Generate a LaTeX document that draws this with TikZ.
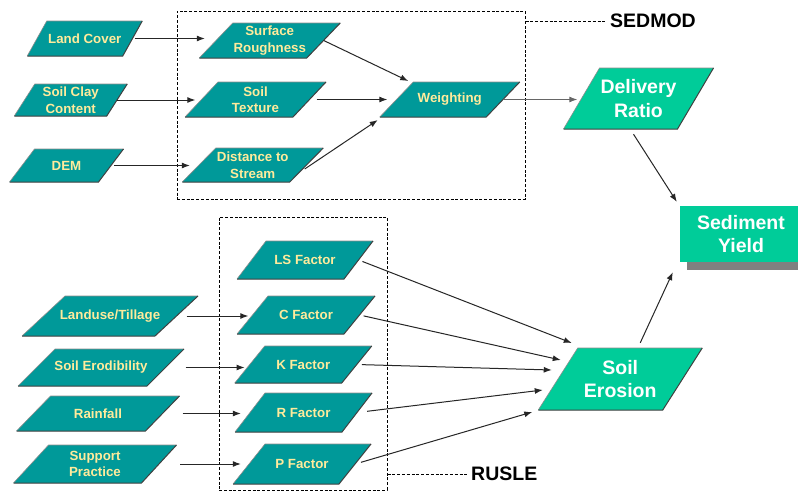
\documentclass[tikz,border=0pt]{standalone}
\usepackage{fontspec}
\setmainfont{Liberation Sans}
\usetikzlibrary{arrows.meta,calc}
\definecolor{tealbox}{HTML}{009999}
\definecolor{greenbox}{HTML}{00CC99}
\definecolor{txtyellow}{HTML}{FFEB9C}
\definecolor{shadowgray}{HTML}{808080}
\newcommand\mypgram[9]{%
  \coordinate (#1-tl) at ({#2-#4/2+#6/2},{#3-#5/2});
  \coordinate (#1-tr) at ({#2+#4/2+#6/2},{#3-#5/2});
  \coordinate (#1-br) at ({#2+#4/2-#6/2},{#3+#5/2});
  \coordinate (#1-bl) at ({#2-#4/2-#6/2},{#3+#5/2});
  \fill[#7] (#1-tl) -- (#1-tr) -- (#1-br) -- (#1-bl) -- cycle;
  \draw[topedge] (#1-bl) -- (#1-tl) -- (#1-tr);
  \draw[botedge] (#1-tr) -- (#1-br) -- (#1-bl);
  \node[#8, minimum width=#4pt, minimum height=#5pt] (#1) at (#2,#3) {#9};
}
\tikzset{
  topedge/.style={draw=black!45, line width=0.6pt},
  botedge/.style={draw=black!75, line width=1pt},
  tealfill/.style={fill=tealbox},
  greenfill/.style={fill=greenbox},
  tealtxt/.style={rectangle, inner sep=0pt, align=center, text=txtyellow,
    font=\bfseries\fontsize{13.3}{16.5}\selectfont},
  greentxt/.style={rectangle, inner sep=0pt, align=center, text=white,
    font=\bfseries\fontsize{19.5}{23.5}\selectfont},
  arr/.style={draw=black!85, line width=1pt, -{Latex[length=8pt,width=6pt]}},
  grayarr/.style={arr, draw=black!60},
  dashbox/.style={draw=black, line width=1pt, dash pattern=on 3pt off 1.8pt, rectangle, inner sep=0pt},
  dashline/.style={draw=black, line width=1pt, dash pattern=on 3pt off 1.8pt},
  lab/.style={inner sep=0pt, text=black, font=\bfseries\fontsize{19.5}{23}\selectfont},
}
\begin{document}
\begin{tikzpicture}[x=1pt, y=-1pt]
\useasboundingbox[fill=white] (0,0) rectangle (798,493);

% dashed model boxes
\node[dashbox, minimum width=348pt, minimum height=188pt] (sedmod) at (351,105) {};
\node[dashbox, minimum width=168pt, minimum height=273pt] (rusle) at (303,353.5) {};
\node[lab, anchor=west] (sedlab) at (610,21) {SEDMOD};
\node[lab, anchor=west] (ruslab) at (471,474) {RUSLE};
\draw[dashline, shorten >=3pt] (sedmod.east |- sedlab.west) -- (sedlab.west);
\draw[dashline, shorten >=4pt] (rusle.east |- ruslab.west) -- (ruslab.west);

% SEDMOD inputs
\mypgram{lc}{84.75}{38.5}{95.5}{35}{19.5}{tealfill}{tealtxt}{Land Cover}
\mypgram{scc}{70.75}{100}{92.5}{32}{20.5}{tealfill}{tealtxt}{Soil Clay\\Content}
\mypgram{dem}{66.5}{165.5}{89}{33}{25}{tealfill}{tealtxt}{DEM}
\mypgram{sr}{269.75}{40.5}{107.5}{35}{33.5}{tealfill}{tealtxt}{Surface\\Roughness}
\mypgram{st}{255.5}{99.5}{108}{35}{33}{tealfill}{tealtxt}{Soil\\Texture}
\mypgram{dts}{252.75}{165}{107.5}{34}{33.5}{tealfill}{tealtxt}{Distance to\\Stream}
\mypgram{wt}{449.75}{99.5}{106.5}{35}{33.5}{tealfill}{tealtxt}{Weighting}
\mypgram{dr}{638.5}{98.5}{114}{61}{36}{greenfill}{greentxt}{Delivery\\Ratio}

% RUSLE
\mypgram{ls}{305}{260}{107}{38}{29}{tealfill}{tealtxt}{LS Factor}
\mypgram{cf}{306}{315}{107}{38}{31}{tealfill}{tealtxt}{C Factor}
\mypgram{kf}{303.25}{364.5}{107}{37}{30}{tealfill}{tealtxt}{K Factor}
\mypgram{rf}{303.5}{412.5}{107}{39}{30}{tealfill}{tealtxt}{R Factor}
\mypgram{pf}{302}{464}{106}{40}{32}{tealfill}{tealtxt}{P Factor}
\mypgram{lu}{110}{316}{133}{40}{43}{tealfill}{tealtxt}{Landuse/Tillage}
\mypgram{erod}{101}{367.5}{129}{37}{37}{tealfill}{tealtxt}{Soil Erodibility}
\mypgram{rain}{98}{413.5}{129}{35}{34}{tealfill}{tealtxt}{Rainfall}
\mypgram{sp}{95}{464}{128}{38}{35}{tealfill}{tealtxt}{Support\\Practice}
\mypgram{se}{620.25}{379}{124.5}{62}{39.5}{greenfill}{greentxt}{Soil\\Erosion}

% Sediment Yield
\node[rectangle, fill=greenbox, minimum width=118pt, minimum height=56pt, inner sep=0pt,
  align=center, text=white, font=\bfseries\fontsize{19.5}{23.5}\selectfont] (sy) at (739,234) {\hspace*{4pt}Sediment\\\hspace*{4pt}Yield};
\fill[shadowgray] ([xshift=7pt]sy.south west) rectangle ([yshift=-8pt]sy.south east);

% connectors SEDMOD
\draw[arr, shorten <=2pt, shorten >=11pt] (lc.east) -- (lc.east -| sr.west);
\draw[arr, shorten >=6pt] (scc.east) -- (scc.east -| st.west);
\draw[arr, shorten <=3pt, shorten >=9pt] (dem.east) -- (dem.east -| dts.west);
\draw[arr] (sr.east) -- ($(wt-tl)+(-5,-1)$);
\draw[arr, shorten <=7pt, shorten >=9pt] (st.east) -- (st.east -| wt.west);
\draw[arr] ($(dts.east)+(-2,4)$) -- ($(wt-bl)+(-2,3)$);
\draw[grayarr, shorten >=4pt] (wt.east) -- (wt.east -| dr.west);
\draw[arr] ($(dr.south)+(-5,5)$) -- ($(sy.north west)+(-3,-4)$);
\draw[arr] ($(se.north)+(20,-5)$) -- ($(sy.south west)+(-7,10)$);

% connectors RUSLE
\draw[arr, shorten <=10pt, shorten >=4pt] (lu.east) -- (lu.east -| cf.west);
\draw[arr, shorten <=20pt, shorten >=5pt] (erod.east) -- (erod.east -| kf.west);
\draw[arr, shorten <=20pt, shorten >=9pt] (rain.east) -- (rain.east -| rf.west);
\draw[arr, shorten <=21pt, shorten >=8pt] (sp.east) -- (sp.east -| pf.west);
\draw[arr, shorten <=4pt] (ls.east) -- ($(se-tl)+(-6,-5)$);
\draw[arr, shorten <=4pt] (cf.east) -- ($(se-tl)+(-17,12)$);
\draw[arr, shorten <=5pt] (kf.east) -- ($(se-tl)+(-26,22)$);
\draw[arr, shorten <=10pt] (rf.east) -- ($(se-tl)+(-35,42)$);
\draw[arr, shorten <=6pt] (pf.east) -- ($(se-bl)+(-6,2)$);
\end{tikzpicture}
\end{document}
